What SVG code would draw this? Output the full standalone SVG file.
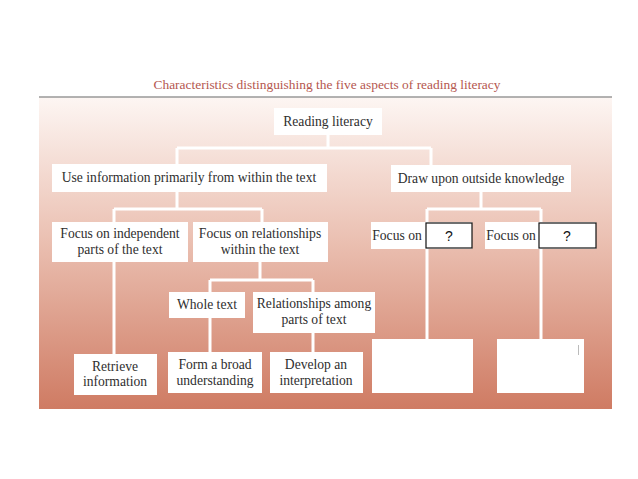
<svg xmlns="http://www.w3.org/2000/svg" width="638" height="479" viewBox="0 0 638 479">
<defs>
<linearGradient id="bg" x1="0" y1="0" x2="0" y2="1">
<stop offset="0" stop-color="#fdf6f3"/>
<stop offset="0.45" stop-color="#ebc1b3"/>
<stop offset="1" stop-color="#cf7b63"/>
</linearGradient>
<style>
.box{fill:#fff}
.t{font-family:"Liberation Serif","Times New Roman",serif;font-size:13.6px;fill:#2e2e2e;text-anchor:middle}
.q{font-family:"Liberation Sans",Arial,sans-serif;font-size:14px;fill:#111;text-anchor:middle}
.qb{fill:#fff;stroke:#111;stroke-width:1.2}
.c{stroke:#fff;stroke-width:3;fill:none}
</style>
</defs>
<rect width="638" height="479" fill="#fff"/>
<text x="327" y="89" font-family="'Liberation Serif','Times New Roman',serif" font-size="13.5" fill="#b5574f" text-anchor="middle" textLength="347" lengthAdjust="spacingAndGlyphs">Characteristics distinguishing the five aspects of reading literacy</text>
<rect x="39" y="97" width="573" height="312" fill="url(#bg)"/>
<line x1="39" y1="97" x2="612" y2="97" stroke="#999" stroke-width="1.5"/>
<g id="connectors">
<path class="c" d="M328 135V148M177 148H431M177 148V164M431 148V165"/>
<path class="c" d="M177 192V209M114 209H262M114 209V354M262 209V222"/>
<path class="c" d="M481 192V209M427 209H541M427 209V339M541 209V339"/>
<path class="c" d="M260 262V280M210 280H313M210 280V352M313 280V352"/>
</g>
<g id="n-reading"><rect class="box" x="274" y="108" width="108" height="27"/><text class="t" x="328" y="126">Reading literacy</text></g>
<g id="n-use"><rect class="box" x="52" y="164" width="275" height="28"/><text class="t" x="189" y="182">Use information primarily from within the text</text></g>
<g id="n-draw"><rect class="box" x="391" y="165" width="180" height="27"/><text class="t" x="481" y="183">Draw upon outside knowledge</text></g>
<g id="n-indep"><rect class="box" x="52" y="222" width="136" height="40"/><text class="t" x="120" y="238">Focus on independent</text><text class="t" x="120" y="254">parts of the text</text></g>
<g id="n-rel"><rect class="box" x="193" y="222" width="135" height="40"/><text class="t" x="260" y="238">Focus on relationships</text><text class="t" x="260" y="254">within the text</text></g>
<g id="n-focus1"><rect class="box" x="371" y="222" width="101" height="27"/><text class="t" x="397" y="240">Focus on</text><rect class="qb" x="426" y="223" width="46" height="25"/><text class="q" x="449" y="241">?</text></g>
<g id="n-focus2"><rect class="box" x="485" y="222" width="111" height="27"/><text class="t" x="511" y="240">Focus on</text><rect class="qb" x="539" y="223" width="57" height="25"/><text class="q" x="567" y="241">?</text></g>
<g id="n-whole"><rect class="box" x="169" y="292" width="76" height="26"/><text class="t" x="207" y="309">Whole text</text></g>
<g id="n-among"><rect class="box" x="253" y="292" width="122" height="41"/><text class="t" x="314" y="308">Relationships among</text><text class="t" x="314" y="324">parts of text</text></g>
<g id="n-retrieve"><rect class="box" x="74" y="354" width="83" height="41"/><text class="t" x="115" y="371">Retrieve</text><text class="t" x="115" y="386">information</text></g>
<g id="n-broad"><rect class="box" x="168" y="352" width="94" height="41"/><text class="t" x="215" y="369">Form a broad</text><text class="t" x="215" y="385">understanding</text></g>
<g id="n-develop"><rect class="box" x="270" y="352" width="93" height="41"/><text class="t" x="316" y="369">Develop an</text><text class="t" x="316" y="385">interpretation</text></g>
<g id="n-blank1"><rect class="box" x="372" y="339" width="101" height="54"/></g>
<g id="n-blank2"><rect class="box" x="497" y="339" width="87" height="54"/><line x1="578.5" y1="345" x2="578.5" y2="355" stroke="#bbb" stroke-width="1"/></g>
</svg>
